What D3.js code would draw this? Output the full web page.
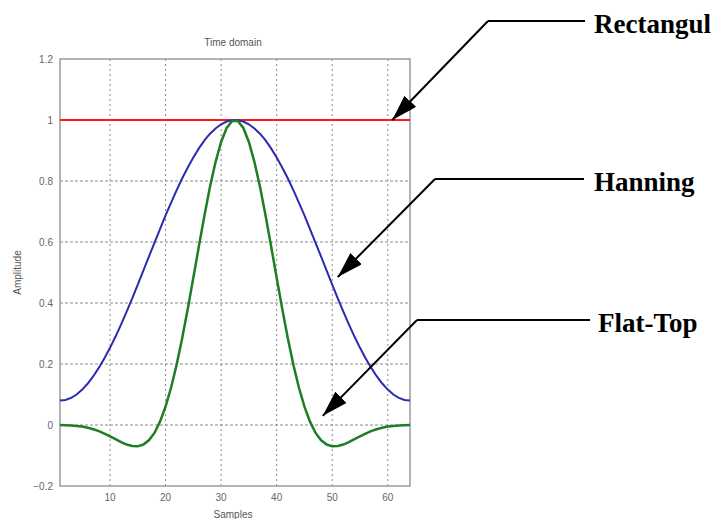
<!DOCTYPE html>
<html>
<head>
<meta charset="utf-8">
<script src="https://cdn.jsdelivr.net/npm/d3@7"></script>
<style>
  body { margin: 0; background: #fff; }
  svg { display: block; }
</style>
</head>
<body>
<script>
// window values, samples 1..64
const rectangular = [1,1,1,1,1,1,1,1,1,1,1,1,1,1,1,1,1,1,1,1,1,1,1,1,1,1,1,1,1,1,1,1,
                     1,1,1,1,1,1,1,1,1,1,1,1,1,1,1,1,1,1,1,1,1,1,1,1,1,1,1,1,1,1,1,1];
const hanning = [0.080,0.082,0.089,0.100,0.116,0.136,0.160,0.188,0.219,0.253,0.290,0.330,0.372,0.415,0.460,0.506,
                 0.552,0.597,0.642,0.687,0.729,0.770,0.809,0.844,0.877,0.907,0.933,0.955,0.972,0.986,0.995,0.999,
                 0.999,0.995,0.986,0.972,0.955,0.933,0.907,0.877,0.844,0.809,0.770,0.729,0.687,0.642,0.597,0.552,
                 0.506,0.460,0.415,0.372,0.330,0.290,0.253,0.219,0.188,0.160,0.136,0.116,0.100,0.089,0.082,0.080];
const flatTop = [0.000,-0.001,-0.002,-0.003,-0.005,-0.009,-0.014,-0.020,-0.028,-0.037,-0.046,-0.056,-0.064,-0.069,-0.070,-0.064,
                 -0.050,-0.026,0.011,0.060,0.123,0.198,0.285,0.381,0.483,0.586,0.687,0.781,0.862,0.928,0.974,0.997,
                 0.997,0.974,0.928,0.862,0.781,0.687,0.586,0.483,0.381,0.285,0.198,0.123,0.060,0.011,-0.026,-0.050,
                 -0.064,-0.070,-0.069,-0.064,-0.056,-0.046,-0.037,-0.028,-0.020,-0.014,-0.009,-0.005,-0.003,-0.002,-0.001,0.000];

const xTicks = [10, 20, 30, 40, 50, 60];
const yTicks = [-0.2, 0, 0.2, 0.4, 0.6, 0.8, 1, 1.2];
const yGrid = [0, 0.2, 0.4, 0.6, 0.8, 1];

// callouts: label + where the arrow points (in data units)
const labels = ["Rectangul", "Hanning", "Flat-Top"];
const tipX = [60.8, 51.0, 48.3];
const tipY = [1.0, 0.485, 0.03];

const width = 719, height = 519;
const plot = { left: 60, top: 59, right: 410, bottom: 486 };

const svg = d3.select("body").append("svg")
    .attr("width", width)
    .attr("height", height);

const x = d3.scaleLinear().domain([1, 64]).range([plot.left, plot.right]);
const y = d3.scaleLinear().domain([-0.2, 1.2]).range([plot.bottom, plot.top]);

// grid
svg.append("g").selectAll("line")
    .data(xTicks)
    .join("line")
    .attr("x1", d => x(d)).attr("x2", d => x(d))
    .attr("y1", plot.top).attr("y2", plot.bottom)
    .attr("stroke", "#8a8a8a")
    .attr("stroke-width", 1)
    .attr("stroke-dasharray", "2,3");

svg.append("g").selectAll("line")
    .data(yGrid)
    .join("line")
    .attr("x1", plot.left).attr("x2", plot.right)
    .attr("y1", d => y(d)).attr("y2", d => y(d))
    .attr("stroke", "#8a8a8a")
    .attr("stroke-width", 1)
    .attr("stroke-dasharray", "3,2");

// frame
svg.append("rect")
    .attr("x", plot.left).attr("y", plot.top)
    .attr("width", plot.right - plot.left)
    .attr("height", plot.bottom - plot.top)
    .attr("fill", "none")
    .attr("stroke", "#9a9a9a")
    .attr("stroke-width", 1.5);

// tick labels
svg.append("g").selectAll("text")
    .data(yTicks)
    .join("text")
    .attr("x", plot.left - 7)
    .attr("y", d => y(d) + 3.5)
    .attr("text-anchor", "end")
    .attr("font-family", "Liberation Sans, Arial, sans-serif")
    .attr("font-size", 10)
    .attr("fill", "#666")
    .text(d => d3.format("~g")(d));

svg.append("g").selectAll("text")
    .data(xTicks)
    .join("text")
    .attr("x", d => x(d))
    .attr("y", plot.bottom + 15)
    .attr("text-anchor", "middle")
    .attr("font-family", "Liberation Sans, Arial, sans-serif")
    .attr("font-size", 10)
    .attr("fill", "#666")
    .text(d => d);

svg.append("text")
    .attr("x", 233).attr("y", 46)
    .attr("text-anchor", "middle")
    .attr("font-family", "Liberation Sans, Arial, sans-serif")
    .attr("font-size", 10)
    .attr("fill", "#555")
    .text("Time domain");

svg.append("text")
    .attr("x", 233).attr("y", 518)
    .attr("text-anchor", "middle")
    .attr("font-family", "Liberation Sans, Arial, sans-serif")
    .attr("font-size", 10)
    .attr("fill", "#555")
    .text("Samples");

svg.append("text")
    .attr("transform", "translate(21," + ((plot.top + plot.bottom) / 2) + ") rotate(-90)")
    .attr("text-anchor", "middle")
    .attr("font-family", "Liberation Sans, Arial, sans-serif")
    .attr("font-size", 10)
    .attr("fill", "#555")
    .text("Amplitude");

// curves
const line = d3.line()
    .x((d, i) => x(i + 1))
    .y(d => y(d));

svg.append("path").datum(rectangular)
    .attr("d", line)
    .attr("fill", "none")
    .attr("stroke", "#ff1a1a")
    .attr("stroke-width", 2);

svg.append("path").datum(hanning)
    .attr("d", line)
    .attr("fill", "none")
    .attr("stroke", "#2b2bb0")
    .attr("stroke-width", 2);

svg.append("path").datum(flatTop)
    .attr("d", line)
    .attr("fill", "none")
    .attr("stroke", "#1e7e24")
    .attr("stroke-width", 2.5);

// callouts
svg.append("defs").append("marker")
    .attr("id", "arrow")
    .attr("viewBox", "0 0 26 16")
    .attr("refX", 26).attr("refY", 8)
    .attr("markerWidth", 26).attr("markerHeight", 16)
    .attr("markerUnits", "userSpaceOnUse")
    .attr("orient", "auto")
    .append("path")
    .attr("d", "M0,0 L26,8 L0,16 Z")
    .attr("fill", "#000");

const elbowX = [488, 435, 417];
const elbowY = [21, 179, 320];
const textX = [594, 594, 598];
const lineEnd = [585, 584, 590];

const callouts = svg.append("g");
labels.forEach((lab, i) => {
    callouts.append("line")
        .attr("x1", elbowX[i]).attr("y1", elbowY[i])
        .attr("x2", lineEnd[i]).attr("y2", elbowY[i])
        .attr("stroke", "#000").attr("stroke-width", 2);
    callouts.append("line")
        .attr("x1", elbowX[i]).attr("y1", elbowY[i])
        .attr("x2", x(tipX[i])).attr("y2", y(tipY[i]))
        .attr("stroke", "#000").attr("stroke-width", 2)
        .attr("marker-end", "url(#arrow)");
    callouts.append("text")
        .attr("x", textX[i]).attr("y", elbowY[i] + 12)
        .attr("font-family", "Liberation Serif, Times New Roman, serif")
        .attr("font-weight", "bold")
        .attr("font-size", 27)
        .attr("fill", "#000")
        .text(lab);
});
</script>
</body>
</html>
